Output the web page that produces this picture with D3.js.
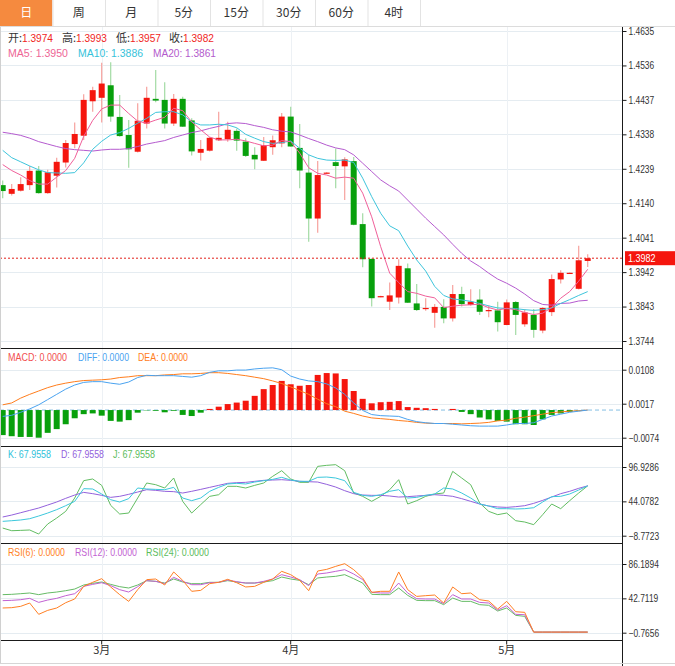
<!DOCTYPE html>
<html>
<head>
<meta charset="utf-8">
<script src="https://cdn.jsdelivr.net/npm/d3@7"></script>
<style>
  body { margin: 0; background: #fff; }
  svg { display: block; font-family: "Liberation Sans", Arial, "Noto Sans CJK SC", sans-serif; }
</style>
</head>
<body>
<svg id="chart"></svg>
<script>
const width = 675;
const height = 666;
const axisX = 622;

const tabs = ["日", "周", "月", "5分", "15分", "30分", "60分", "4时"];

// daily candles, oldest first
const openP = [1.4192,1.4167,1.4176,1.4192,1.4234,1.4169,1.4219,1.4257,1.4310,1.4334,
  1.4433,1.4443,1.4479,1.4388,1.4336,1.4288,1.4369,1.4440,1.4437,1.4369,
  1.4440,1.4378,1.4285,1.4291,1.4321,1.4324,1.4348,1.4317,1.4279,1.4262,
  1.4301,1.4312,1.4389,1.4299,1.4228,1.4096,1.4226,1.4258,1.4246,1.4261,
  1.4080,1.3980,1.3871,1.3857,1.3869,1.3953,1.3852,1.3837,1.3825,1.3842,
  1.3809,1.3879,1.3848,1.3863,1.3831,1.3832,1.3790,1.3856,1.3792,1.3819,
  1.3774,1.3827,1.3921,1.3939,1.3894,1.3974];
const highP = [1.4205,1.4195,1.4215,1.4247,1.4247,1.4236,1.4271,1.4322,1.4372,1.4453,
  1.4475,1.4544,1.4545,1.4451,1.4379,1.4427,1.4475,1.4523,1.4488,1.4454,
  1.4446,1.4384,1.4322,1.4330,1.4403,1.4374,1.4355,1.4327,1.4301,1.4330,
  1.4335,1.4399,1.4417,1.4368,1.4279,1.4261,1.4229,1.4297,1.4272,1.4273,
  1.4111,1.3981,1.3874,1.3912,1.3979,1.3967,1.3908,1.3867,1.3850,1.3864,
  1.3905,1.3900,1.3893,1.3893,1.3847,1.3857,1.3863,1.3859,1.3836,1.3836,
  1.3841,1.3935,1.3947,1.3941,1.4018,1.3993];
const lowP = [1.4154,1.4162,1.4174,1.4178,1.4167,1.4167,1.4185,1.4243,1.4298,1.4322,
  1.4403,1.4372,1.4374,1.4331,1.4242,1.4286,1.4355,1.4430,1.4355,1.4362,
  1.4359,1.4277,1.4263,1.4289,1.4319,1.4317,1.4291,1.4273,1.4238,1.4261,
  1.4279,1.4301,1.4302,1.4183,1.4029,1.4055,1.4225,1.4183,1.4149,1.4077,
  1.3956,1.3843,1.3870,1.3833,1.3852,1.3853,1.3830,1.3831,1.3782,1.3795,
  1.3800,1.3843,1.3845,1.3819,1.3812,1.3771,1.3789,1.3761,1.3785,1.3753,
  1.3766,1.3816,1.3909,1.3938,1.3892,1.3957];
const closeP = [1.4175,1.4181,1.4195,1.4233,1.4169,1.4229,1.4259,1.4313,1.4339,1.4437,
  1.4465,1.4484,1.4389,1.4333,1.4295,1.4377,1.4443,1.4435,1.4369,1.4440,
  1.4360,1.4289,1.4296,1.4328,1.4328,1.4351,1.4320,1.4276,1.4266,1.4307,
  1.4321,1.4389,1.4303,1.4234,1.4096,1.4221,1.4228,1.4247,1.4266,1.4078,
  1.3979,1.3867,1.3873,1.3875,1.3960,1.3854,1.3833,1.3839,1.3842,1.3809,
  1.3879,1.3850,1.3857,1.3828,1.3833,1.3798,1.3855,1.3819,1.3826,1.3776,
  1.3839,1.3922,1.3940,1.3940,1.3976,1.3982];

const ma5 = [1.4251,1.4234,1.4221,1.4205,1.4195,1.4195,1.4215,1.4234,1.4269,1.4332,
  1.4378,1.4411,1.4422,1.4422,1.4398,1.4376,1.4370,1.4379,1.4387,1.4413,
  1.4406,1.4374,1.4351,1.4330,1.4322,1.4322,1.4324,1.4319,1.4312,1.4305,
  1.4307,1.4320,1.4317,1.4284,1.4242,1.4226,1.4221,1.4212,1.4215,1.4212,
  1.4169,1.4101,1.4015,1.3939,1.3912,1.3886,1.3881,1.3873,1.3868,1.3840,
  1.3844,1.3847,1.3848,1.3850,1.3840,1.3833,1.3838,1.3834,1.3826,1.3820,
  1.3824,1.3840,1.3867,1.3886,1.3916,1.3950];
const ma10 = [1.4292,1.4271,1.4259,1.4247,1.4236,1.4228,1.4227,1.4226,1.4228,1.4256,
  1.4295,1.4318,1.4336,1.4343,1.4355,1.4370,1.4384,1.4401,1.4403,1.4403,
  1.4394,1.4374,1.4365,1.4365,1.4367,1.4365,1.4357,1.4338,1.4327,1.4317,
  1.4312,1.4314,1.4319,1.4298,1.4279,1.4269,1.4264,1.4263,1.4264,1.4257,
  1.4212,1.4159,1.4111,1.4075,1.4061,1.4017,1.3977,1.3945,1.3901,1.3875,
  1.3865,1.3862,1.3858,1.3852,1.3845,1.3839,1.3837,1.3837,1.3834,1.3832,
  1.3834,1.3839,1.3852,1.3863,1.3875,1.3886];
const ma20 = [1.4344,1.4340,1.4335,1.4327,1.4317,1.4310,1.4303,1.4297,1.4294,1.4292,
  1.4290,1.4293,1.4295,1.4295,1.4297,1.4303,1.4310,1.4315,1.4320,1.4329,
  1.4336,1.4343,1.4348,1.4355,1.4361,1.4369,1.4371,1.4369,1.4363,1.4358,
  1.4351,1.4347,1.4345,1.4336,1.4326,1.4317,1.4307,1.4299,1.4294,1.4279,
  1.4255,1.4231,1.4207,1.4190,1.4175,1.4149,1.4123,1.4097,1.4073,1.4049,
  1.4022,1.3996,1.3974,1.3958,1.3939,1.3922,1.3910,1.3896,1.3879,1.3860,
  1.3849,1.3847,1.3852,1.3853,1.3859,1.3861];

const macdBar = [-0.0067,-0.0070,-0.0072,-0.0072,-0.0074,-0.0061,-0.0051,-0.0038,-0.0022,-0.0011,
  -0.0009,-0.0015,-0.0029,-0.0031,-0.0027,-0.0007,-0.0001,-0.0002,-0.0006,-0.0002,
  -0.0013,-0.0016,-0.0007,0.0003,0.0009,0.0016,0.0020,0.0025,0.0038,0.0056,
  0.0067,0.0078,0.0069,0.0065,0.0067,0.0094,0.0099,0.0098,0.0083,0.0051,
  0.0030,0.0018,0.0021,0.0022,0.0024,0.0008,0.0006,0.0005,0.0003,0.0000,
  0.0003,-0.0005,-0.0011,-0.0020,-0.0025,-0.0029,-0.0031,-0.0038,-0.0038,-0.0040,
  -0.0025,-0.0013,-0.0009,-0.0005,-0.0001,0.0000];
const diff = [-0.0017,-0.0014,-0.0006,0.0003,0.0014,0.0028,0.0042,0.0056,0.0067,0.0074,
  0.0076,0.0076,0.0072,0.0069,0.0075,0.0087,0.0093,0.0092,0.0092,0.0092,
  0.0090,0.0088,0.0092,0.0101,0.0105,0.0105,0.0107,0.0107,0.0110,0.0112,
  0.0113,0.0108,0.0091,0.0083,0.0078,0.0076,0.0070,0.0059,0.0042,0.0019,
  -0.0001,-0.0012,-0.0015,-0.0016,-0.0017,-0.0025,-0.0031,-0.0034,-0.0036,-0.0036,
  -0.0038,-0.0040,-0.0042,-0.0043,-0.0043,-0.0043,-0.0040,-0.0036,-0.0036,-0.0034,
  -0.0025,-0.0016,-0.0011,-0.0006,-0.0003,0.0000];
const dea = [0.0014,0.0019,0.0032,0.0042,0.0051,0.0060,0.0067,0.0072,0.0076,0.0079,
  0.0080,0.0081,0.0083,0.0087,0.0089,0.0092,0.0092,0.0092,0.0094,0.0095,
  0.0097,0.0097,0.0098,0.0100,0.0100,0.0098,0.0095,0.0092,0.0088,0.0084,
  0.0078,0.0071,0.0062,0.0052,0.0042,0.0029,0.0017,0.0009,-0.0003,-0.0009,
  -0.0016,-0.0021,-0.0023,-0.0025,-0.0028,-0.0030,-0.0033,-0.0035,-0.0036,-0.0036,
  -0.0036,-0.0037,-0.0036,-0.0035,-0.0033,-0.0029,-0.0027,-0.0022,-0.0019,-0.0015,
  -0.0011,-0.0007,-0.0005,-0.0003,-0.0002,0.0000];

const kLine = [13.3,14.3,15.4,17.4,21.5,26.1,31.3,37.4,44.1,63.6,
  63.1,55.4,46.6,43.1,48.2,64.6,63.1,62.5,62.0,65.6,
  49.2,45.1,49.2,59.5,65.6,70.8,71.8,70.8,73.8,75.9,
  77.9,81.0,76.9,74.9,74.9,81.0,81.5,80.0,75.9,57.9,
  53.3,51.8,54.3,59.5,62.0,49.2,50.2,53.3,55.4,64.6,
  63.1,56.9,49.2,40.0,36.9,32.8,32.8,32.3,32.8,34.3,
  43.1,51.3,51.8,55.4,61.5,67.9558];
const dLine = [20.0,23.0,26.6,30.2,33.8,38.4,43.1,48.7,53.8,57.9,
  55.9,53.3,50.2,51.8,54.9,58.4,62.0,61.0,59.5,59.0,
  56.9,59.5,62.5,65.6,68.7,71.8,72.8,73.3,74.9,76.4,
  76.9,77.4,76.4,74.9,74.3,73.8,70.2,66.1,60.5,55.9,
  53.8,53.3,53.3,52.3,50.7,51.3,52.3,53.3,54.3,53.3,
  51.8,48.2,44.1,40.0,36.9,35.4,34.8,35.9,37.4,41.0,
  45.6,50.7,55.9,59.5,64.1,67.9558];
const jLine = [3.0,-1.1,-0.6,0.0,-6.2,9.2,18.4,28.7,49.2,75.9,
  78.5,68.7,37.9,24.6,26.1,49.2,72.3,69.7,64.6,80.0,
  44.1,26.1,39.0,51.8,54.3,67.2,67.2,64.6,68.7,72.3,
  82.6,91.3,78.5,73.3,73.3,97.9,99.5,100.5,91.3,56.9,
  51.8,44.1,51.8,62.0,77.4,40.0,45.1,51.8,55.4,56.9,
  90.2,80.0,69.7,41.5,28.7,23.6,26.1,14.3,12.3,8.2,
  23.6,40.0,32.8,45.1,56.9,67.9558];

const rsi6 = [30.5,30.9,32.6,36.8,22.5,27.5,30.5,37.2,41.9,57.9,
  63.0,67.6,57.1,47.4,38.9,53.7,66.4,67.2,59.6,76.1,
  65.5,51.6,52.8,61.3,63.0,66.8,62.5,57.1,57.9,63.0,
  67.2,76.9,72.7,65.5,52.4,77.3,79.4,83.2,86.6,79.0,
  68.5,50.3,51.6,51.6,76.1,53.7,45.2,46.1,46.9,36.8,
  57.1,48.6,49.5,41.0,39.3,29.2,38.9,25.8,25.0,0,
  0,0,0,0,0,0];
const rsi12 = [39.8,40.2,41.0,42.7,37.6,40.6,42.7,46.1,48.6,57.9,
  60.4,62.5,58.8,53.7,50.7,57.5,65.1,64.2,61.3,69.3,
  64.2,60.0,60.0,62.5,63.0,65.9,63.8,62.1,62.1,64.2,
  67.2,72.7,69.7,66.4,58.8,73.5,74.8,76.9,79.0,73.5,
  66.4,50.3,49.5,49.5,62.1,49.5,42.3,41.9,41.9,36.0,
  47.4,41.9,41.9,37.6,36.8,27.9,33.4,22.5,22.0,0,
  0,0,0,0,0,0];
const rsi24 = [47.4,47.8,48.6,49.5,47.4,49.5,50.7,52.4,54.5,59.6,
  61.7,63.4,60.4,57.5,55.8,59.6,65.1,64.2,62.1,67.2,
  63.4,61.3,61.3,63.0,63.0,65.1,63.4,62.1,62.1,63.4,
  65.1,69.7,67.2,65.5,60.0,68.5,69.7,70.6,72.7,67.6,
  62.1,47.8,47.4,47.4,55.8,46.5,40.2,39.8,39.8,34.7,
  43.1,38.9,38.9,34.7,33.9,26.7,30.5,21.2,19.9,0,
  0,0,0,0,0,0];

const monthIdx = [11, 32, 56];
const monthLabels = ["3月", "4月", "5月"];
const priceTicks = [1.4635, 1.4536, 1.4437, 1.4338, 1.4239, 1.4140, 1.4041, 1.3942, 1.3843, 1.3744];
const macdTicks = [0.0108, 0.0017, -0.0074];
const kdjTicks = [96.9286, 44.0782, -8.7723];
const rsiTicks = [86.1894, 42.7119, -0.7656];

const upColor = "#f5160e", downColor = "#08a00c";
const upWick = "#f7a19d", downWick = "#a2dba4";
const gridColor = "#e5ecf1";

const svg = d3.select("#chart").attr("width", width).attr("height", height);

// the reference font is narrow, squeeze regular glyphs horizontally
function squeeze(sel, k) {
  sel.each(function () {
    const len = this.getComputedTextLength();
    d3.select(this).attr("textLength", len * k).attr("lengthAdjust", "spacingAndGlyphs");
  });
}

// x: one slot per day, some empty slots on the right
const x = d3.scaleBand()
  .domain(d3.range(69))
  .range([-1.8, -1.8 + 69 * 9])
  .paddingInner(1 / 3)
  .paddingOuter(1 / 6);
const cx = i => x(i) + x.bandwidth() / 2;

const yPrice = d3.scaleLinear().domain([1.3744, 1.4635]).range([341, 31]);
const yMacd = d3.scaleLinear().domain([-0.0074, 0.0108]).range([437.7, 369.7]);
const yKdj = d3.scaleLinear().domain([-8.7723, 96.9286]).range([535.7, 467]);
const yRsi = d3.scaleLinear().domain([-0.7656, 86.1894]).range([632.7, 564]);

// tabs
const tabW = 52.5;
const tabG = svg.append("g");
tabG.selectAll("rect")
  .data(tabs)
  .join("rect")
  .attr("x", (d, i) => i * tabW)
  .attr("y", 0)
  .attr("width", tabW)
  .attr("height", 26)
  .attr("fill", (d, i) => i === 0 ? "#f58a3f" : "#fff");
tabG.selectAll("line")
  .data(tabs)
  .join("line")
  .attr("x1", (d, i) => (i + 1) * tabW + 0.5)
  .attr("x2", (d, i) => (i + 1) * tabW + 0.5)
  .attr("y1", 0)
  .attr("y2", 26)
  .attr("stroke", "#e3e3e3");
tabG.selectAll("text")
  .data(tabs)
  .join("text")
  .attr("x", (d, i) => i * tabW + tabW / 2)
  .attr("y", 17)
  .attr("text-anchor", "middle")
  .style("font-family", "'Noto Sans CJK SC', 'Liberation Sans', sans-serif")
  .style("font-size", "12px")
  .attr("fill", (d, i) => i === 0 ? "#fff" : "#333")
  .text(d => d);
svg.append("line")
  .attr("x1", 0).attr("x2", width)
  .attr("y1", 26.5).attr("y2", 26.5)
  .attr("stroke", "#dcdcdc");

// grids
function hGrid(ticks, y) {
  svg.append("g")
    .selectAll("line")
    .data(ticks)
    .join("line")
    .attr("x1", 0).attr("x2", axisX)
    .attr("y1", d => Math.round(y(d)) + 0.5)
    .attr("y2", d => Math.round(y(d)) + 0.5)
    .attr("stroke", gridColor);
}
hGrid(priceTicks, yPrice);
hGrid(macdTicks, yMacd);
hGrid(kdjTicks, yKdj);
hGrid(rsiTicks, yRsi);

svg.append("g")
  .selectAll("line")
  .data(monthIdx)
  .join("line")
  .attr("x1", d => Math.round(cx(d)) + 0.5)
  .attr("x2", d => Math.round(cx(d)) + 0.5)
  .attr("y1", 27).attr("y2", 640)
  .attr("stroke", "#edf1f5");

// candles
const candles = d3.range(openP.length).map(i => ({
  i, o: openP[i], h: highP[i], l: lowP[i], c: closeP[i]
}));
const candleG = svg.append("g");
candleG.selectAll("line")
  .data(candles)
  .join("line")
  .attr("x1", d => cx(d.i))
  .attr("x2", d => cx(d.i))
  .attr("y1", d => yPrice(d.h))
  .attr("y2", d => yPrice(d.l))
  .attr("stroke", d => d.c >= d.o ? upWick : downWick)
  .attr("stroke-width", 1.2);
candleG.selectAll("rect")
  .data(candles)
  .join("rect")
  .attr("x", d => x(d.i))
  .attr("width", x.bandwidth())
  .attr("y", d => yPrice(Math.max(d.o, d.c)))
  .attr("height", d => Math.max(1.2, Math.abs(yPrice(d.o) - yPrice(d.c))))
  .attr("fill", d => d.c >= d.o ? upColor : downColor);

// moving averages
function drawLine(values, y, color) {
  const line = d3.line().x((d, i) => cx(i)).y(d => y(d));
  svg.append("path")
    .datum(values)
    .attr("fill", "none")
    .attr("stroke", color)
    .attr("stroke-width", 1)
    .attr("d", line);
}
drawLine(ma20, yPrice, "#b55bcf");
drawLine(ma10, yPrice, "#3ec5dc");
drawLine(ma5, yPrice, "#f0609a");

// last price
const last = closeP.length - 1;
const lastY = yPrice(closeP[last]);
svg.append("line")
  .attr("x1", 0).attr("x2", axisX)
  .attr("y1", lastY).attr("y2", lastY)
  .attr("stroke", "#e3201b")
  .attr("stroke-dasharray", "2,2");

// MACD
svg.append("line")
  .attr("x1", 0).attr("x2", axisX)
  .attr("y1", yMacd(0)).attr("y2", yMacd(0))
  .attr("stroke", "#86bfe3")
  .attr("stroke-dasharray", "4,3");
svg.append("g")
  .selectAll("rect")
  .data(macdBar)
  .join("rect")
  .attr("x", (d, i) => x(i))
  .attr("width", x.bandwidth())
  .attr("y", d => Math.min(yMacd(d), yMacd(0)))
  .attr("height", d => Math.abs(yMacd(d) - yMacd(0)))
  .attr("fill", d => d >= 0 ? upColor : downColor);
drawLine(dea, yMacd, "#ff7d1c");
drawLine(diff, yMacd, "#4aa3f0");

// KDJ
drawLine(jLine, yKdj, "#62bd62");
drawLine(dLine, yKdj, "#9361dc");
drawLine(kLine, yKdj, "#3cc8dc");

// RSI
drawLine(rsi24, yRsi, "#66bb66");
drawLine(rsi12, yRsi, "#c262d2");
drawLine(rsi6, yRsi, "#ff7f24");

// panel separators and frame
svg.append("g")
  .selectAll("line")
  .data([348.5, 446.5, 543.5, 640.5])
  .join("line")
  .attr("x1", 0).attr("x2", axisX)
  .attr("y1", d => d).attr("y2", d => d)
  .attr("stroke", "#1a1a1a");
svg.append("line")
  .attr("x1", axisX + 0.5).attr("x2", axisX + 0.5)
  .attr("y1", 27).attr("y2", height)
  .attr("stroke", "#1a1a1a");
svg.append("line")
  .attr("x1", 0.5).attr("x2", 0.5)
  .attr("y1", 27).attr("y2", 663)
  .attr("stroke", "#d0d0d0");
svg.append("line")
  .attr("x1", 0).attr("x2", width)
  .attr("y1", 663.5).attr("y2", 663.5)
  .attr("stroke", "#d6d6d6");

// right axes
function rightAxis(ticks, y) {
  const g = svg.append("g")
    .attr("transform", `translate(${axisX + 0.5},0)`)
    .call(d3.axisRight(y).tickValues(ticks).tickFormat(d3.format(".4f")).tickSize(4).tickPadding(2));
  g.select(".domain").remove();
  g.selectAll("line").attr("stroke", "#1a1a1a");
  g.selectAll("text")
    .attr("fill", "#333")
    .style("font-size", "10.5px")
    .style("font-family", "'Liberation Sans', Arial, sans-serif")
    .call(squeeze, 0.8);
}
rightAxis(priceTicks, yPrice);
rightAxis(macdTicks, yMacd);
rightAxis(kdjTicks, yKdj);
rightAxis(rsiTicks, yRsi);

// last price tag
svg.append("rect")
  .attr("x", axisX + 3).attr("y", lastY - 7)
  .attr("width", width - axisX - 3).attr("height", 14)
  .attr("fill", "#f5160e");
svg.append("text")
  .attr("x", axisX + 6).attr("y", lastY + 4)
  .attr("fill", "#fff")
  .style("font-size", "11px")
  .text(d3.format(".4f")(closeP[last]))
  .call(squeeze, 0.82);

// bottom axis
const xAxis = svg.append("g")
  .attr("transform", "translate(0,640.5)")
  .call(d3.axisBottom(x).tickValues(monthIdx).tickFormat((d, i) => monthLabels[i]).tickSize(4).tickPadding(2));
xAxis.select(".domain").remove();
xAxis.selectAll("line").attr("stroke", "#1a1a1a");
xAxis.selectAll("text")
  .attr("fill", "#333")
  .style("font-size", "11px")
  .style("font-family", "'Noto Sans CJK SC', sans-serif");

// legends
const fmt4 = d3.format(".4f");
const ohlcLabels = ["开:", "高:", "低:", "收:"];
const ohlcValues = [openP[last], highP[last], lowP[last], closeP[last]];
const ohlcX = [8, 62, 116, 169];
const topLegend = svg.append("g").style("font-size", "11px");
ohlcLabels.forEach((lab, i) => {
  topLegend.append("text")
    .attr("x", ohlcX[i]).attr("y", 42)
    .attr("fill", "#333")
    .style("font-family", "'Noto Sans CJK SC', sans-serif")
    .text(lab);
  topLegend.append("text")
    .attr("x", ohlcX[i] + 14).attr("y", 42)
    .attr("fill", "#f0261e")
    .attr("textLength", 31)
    .attr("lengthAdjust", "spacingAndGlyphs")
    .text(fmt4(ohlcValues[i]));
});

function legendRow(items, y) {
  const g = svg.append("g").style("font-size", "10.5px");
  items.forEach(it => {
    g.append("text")
      .attr("x", it.x).attr("y", y)
      .attr("fill", it.color)
      .attr("textLength", it.w)
      .attr("lengthAdjust", "spacingAndGlyphs")
      .text(it.label + " " + it.value);
  });
}
legendRow([
  { x: 8, w: 60, label: "MA5:", value: fmt4(ma5[last]), color: "#ee6595" },
  { x: 78, w: 65, label: "MA10:", value: fmt4(ma10[last]), color: "#36c2da" },
  { x: 153, w: 63, label: "MA20:", value: fmt4(ma20[last]), color: "#b35acc" }
], 57);
legendRow([
  { x: 8, w: 59, label: "MACD:", value: fmt4(macdBar[last]), color: "#f25050" },
  { x: 78, w: 51, label: "DIFF:", value: fmt4(diff[last]), color: "#4aa3f0" },
  { x: 138, w: 50, label: "DEA:", value: fmt4(dea[last]), color: "#ff7d1c" }
], 361);
legendRow([
  { x: 8, w: 43, label: "K:", value: fmt4(kLine[last]), color: "#30c2da" },
  { x: 61, w: 43, label: "D:", value: fmt4(dLine[last]), color: "#9361dc" },
  { x: 113, w: 42, label: "J:", value: fmt4(jLine[last]), color: "#5cbc5c" }
], 458);
legendRow([
  { x: 8, w: 57, label: "RSI(6):", value: fmt4(rsi6[last]), color: "#ff7f24" },
  { x: 75, w: 62, label: "RSI(12):", value: fmt4(rsi12[last]), color: "#c262d2" },
  { x: 146, w: 63, label: "RSI(24):", value: fmt4(rsi24[last]), color: "#5cbc5c" }
], 556);
</script>
</body>
</html>
